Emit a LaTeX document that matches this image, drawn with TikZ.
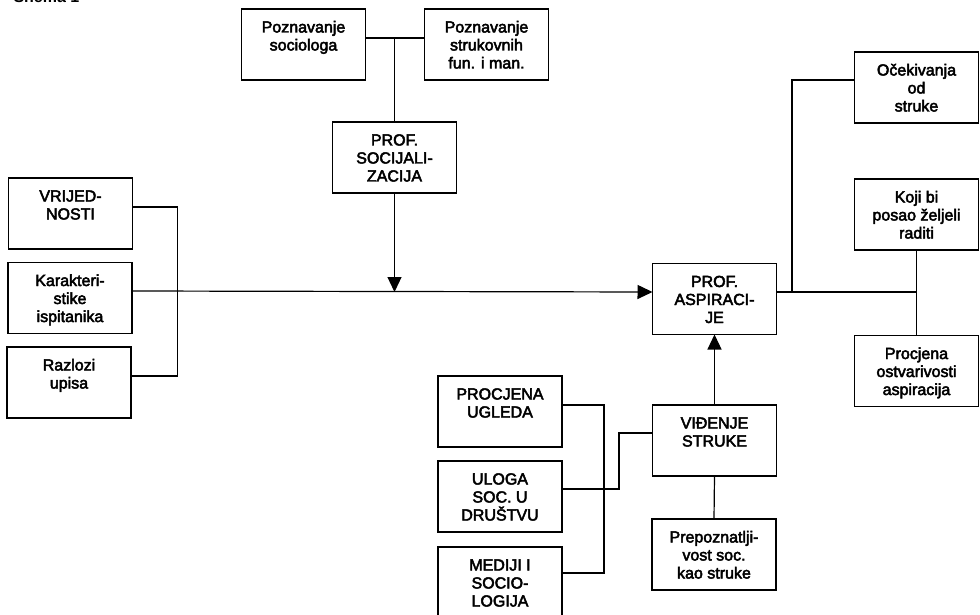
\documentclass[tikz,border=0pt]{standalone}
\usepackage{fontspec}
\setmainfont{Liberation Sans}
\newfontfamily\boxfont[FakeBold=3]{Liberation Sans}
\usetikzlibrary{arrows.meta}
\tikzset{
  box/.style={draw, line width=1.2pt, inner sep=0pt, outer sep=0pt},
  conn/.style={line width=1.2pt},
  arr/.style={line width=1.2pt, -{Triangle[length=15pt,width=14pt]}},
}
\newcommand\bxt[1]{\parbox[c][71pt][t]{124pt}{\centering\boxfont\fontsize{16}{18}\selectfont\rule{0pt}{23.5pt}#1}}
\begin{document}
\begin{tikzpicture}[x=1pt,y=-1pt]
\useasboundingbox (0,0) rectangle (980,615);
\clip (0,0) rectangle (980,615);
\node[anchor=base west, font=\bfseries\fontsize{16}{18}\selectfont] (title) at (10,3) {Shema 1};
% boxes
\node[box] (soc)   at (303.5,44.5) {\bxt{Poznavanje\\sociologa}};
\node[box] (struk) at (486.5,44.5) {\bxt{Poznavanje\\strukovnih\\fun. i man.}};
\node[box] (psoc)  at (394.5,157.5) {\bxt{PROF.\\SOCIJALI-\\ZACIJA}};
\node[box] (vrij)  at (70.5,213.5) {\bxt{VRIJED-\\NOSTI}};
\node[box] (kar)   at (70,298) {\bxt{Karakteri-\\stike\\ispitanika}};
\node[box] (raz)   at (69,382.5) {\bxt{Razlozi\\upisa}};
\node[box] (asp)   at (714.5,299) {\bxt{PROF.\\ASPIRACI-\\JE}};
\node[box] (vid)   at (714.5,440.5) {\bxt{VIĐENJE\\STRUKE}};
\node[box] (prep)  at (714,554.5) {\bxt{Prepoznatlji-\\vost soc.\\kao struke}};
\node[box] (ocek)  at (916.5,87.5) {\bxt{Očekivanja\\od\\struke}};
\node[box] (koji)  at (916.5,214.5) {\bxt{Koji bi\\posao željeli\\raditi}};
\node[box] (proc)  at (916.5,371) {\bxt{Procjena\\ostvarivosti\\aspiracija}};
\node[box] (ugl)   at (500,411.5) {\bxt{PROCJENA\\UGLEDA}};
\node[box] (ulo)   at (500,496.5) {\bxt{ULOGA\\SOC. U\\DRUŠTVU}};
\node[box] (med)   at (500,582.5) {\bxt{MEDIJI I\\SOCIO-\\LOGIJA}};
% coordinates
\coordinate (j1) at ([yshift=6.5]soc.east -| psoc.north);
\coordinate (j2) at ([xshift=15.5,yshift=7]asp.east);
\coordinate (ain) at ([yshift=7]asp.west);
% connectors
\draw[conn] ([yshift=6.5]soc.east) -- ([yshift=6.5]struk.west);
\draw[conn] (j1) -- (psoc.north);
\draw[arr] ([yshift=7]kar.east) -- (ain);
\draw[arr] (psoc.south) -- (psoc.south |- ain);
\draw[conn] ([yshift=6.5]vrij.east) -- ++(45,0) |- ([yshift=6.5]raz.east);
\draw[conn] ([yshift=7]asp.east) -- ([yshift=7]asp.east -| koji.south);
\draw[conn] (koji.south) -- (proc.north);
\draw[conn] (j2) |- ([yshift=7.5]ocek.west);
\draw[arr] (vid.north) -- (asp.south);
\draw[conn] (vid.south) -- (prep.north);
\draw[conn] ([yshift=6.5]ugl.east) -- ++(42,0) |- ([yshift=9.5]med.east);
\draw[conn] ([yshift=7.5]ulo.east) -- ++(57,0) |- ([yshift=7.5]vid.west);
\end{tikzpicture}
\end{document}
